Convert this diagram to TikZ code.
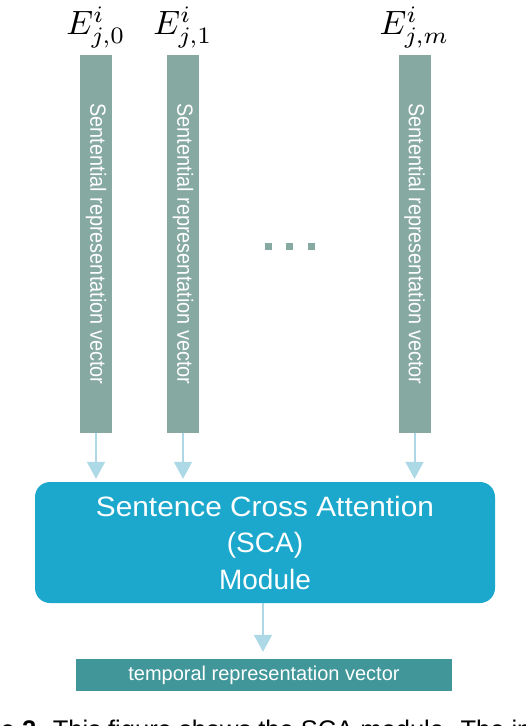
\documentclass[tikz,border=0pt]{standalone}
\usepackage{fontspec}
\newfontfamily\arial{Liberation Sans}
\usetikzlibrary{arrows.meta,calc}
\definecolor{barcol}{RGB}{134,169,162}
\definecolor{scacol}{RGB}{27,168,204}
\definecolor{outcol}{RGB}{64,150,153}
\definecolor{arrcol}{RGB}{173,216,230}
\tikzset{
  vbar/.style={rectangle, fill=barcol, inner sep=0pt, minimum width=378pt, minimum height=32pt,
    text=white, font=\arial\fontsize{22}{26}\selectfont, rotate=-90},
  dotsq/.style={rectangle, fill=barcol, inner sep=0pt, minimum size=7pt},
  lbl/.style={anchor=base, inner sep=0pt},
  feed/.style={draw=arrcol, line width=2pt, -{Triangle[width=18pt,length=17pt]}},
  scabox/.style={rectangle, fill=scacol, rounded corners=15pt, minimum width=460pt, minimum height=121pt,
    inner sep=0pt, text=white, align=center, font=\arial\fontsize{28}{36.5}\selectfont},
  outbox/.style={rectangle, fill=outcol, minimum width=376pt, minimum height=32pt, inner sep=0pt,
    text=white, font=\arial\fontsize{20}{24}\selectfont},
  captxt/.style={inner sep=0pt, font=\arial\fontsize{25.5}{30}\selectfont}
}
\begin{document}
\begin{tikzpicture}[x=1pt,y=-1pt]
\useasboundingbox (0,0) rectangle (526,726);
% vertical bars
\node[vbar] (b1) at (96,244) {\scalebox{0.905}[1]{Sentential representation vector}};
\node[vbar] (b2) at (183,244) {\scalebox{0.905}[1]{Sentential representation vector}};
\node[vbar] (b3) at (414.5,244) {\scalebox{0.905}[1]{Sentential representation vector}};
% labels
\node[lbl] (l1) at ($(b1.west)+(0,-20)$) {\scalebox{3.37}{$E^i_{j,0}$}};
\node[lbl] (l2) at ($(b2.west)+(0,-20)$) {\scalebox{3.37}{$E^i_{j,1}$}};
\node[lbl] (l3) at ($(b3.west)+(0,-20)$) {\scalebox{3.37}{$E^i_{j,m}$}};
% dots
\node[dotsq] (d1) at (268.7,246.5) {};
\node[dotsq] (d2) at (289.7,246.5) {};
\node[dotsq] (d3) at (311.7,246.5) {};
% SCA module
\node[scabox] (sca) at (265,542.5) {\scalebox{1.065}[1]{Sentence Cross Attention}\\(SCA)\\Module};
% output
\node[outbox] (out) at (264,675) {temporal representation vector};
% arrows
\draw[feed, shorten >=3pt] (b1.east) -- (b1.east |- sca.north);
\draw[feed, shorten >=3pt] (b2.east) -- (b2.east |- sca.north);
\draw[feed, shorten >=3pt] (b3.east) -- (b3.east |- sca.north);
\draw[feed, shorten >=7pt] ($(sca.south)+(-2,0)$) -- ($(out.north)+(-1,0)$);
% caption (cut off at the bottom edge)
\begin{scope}
\clip (0,0) rectangle (526,726);
\node[captxt, anchor=base east] (capa) at (15,738) {\bfseries Figure};
\node[captxt, anchor=base west] (capb) at (22,738) {\textbf{2.} This figure shows the SCA module. The input};
\end{scope}
\end{tikzpicture}
\end{document}
